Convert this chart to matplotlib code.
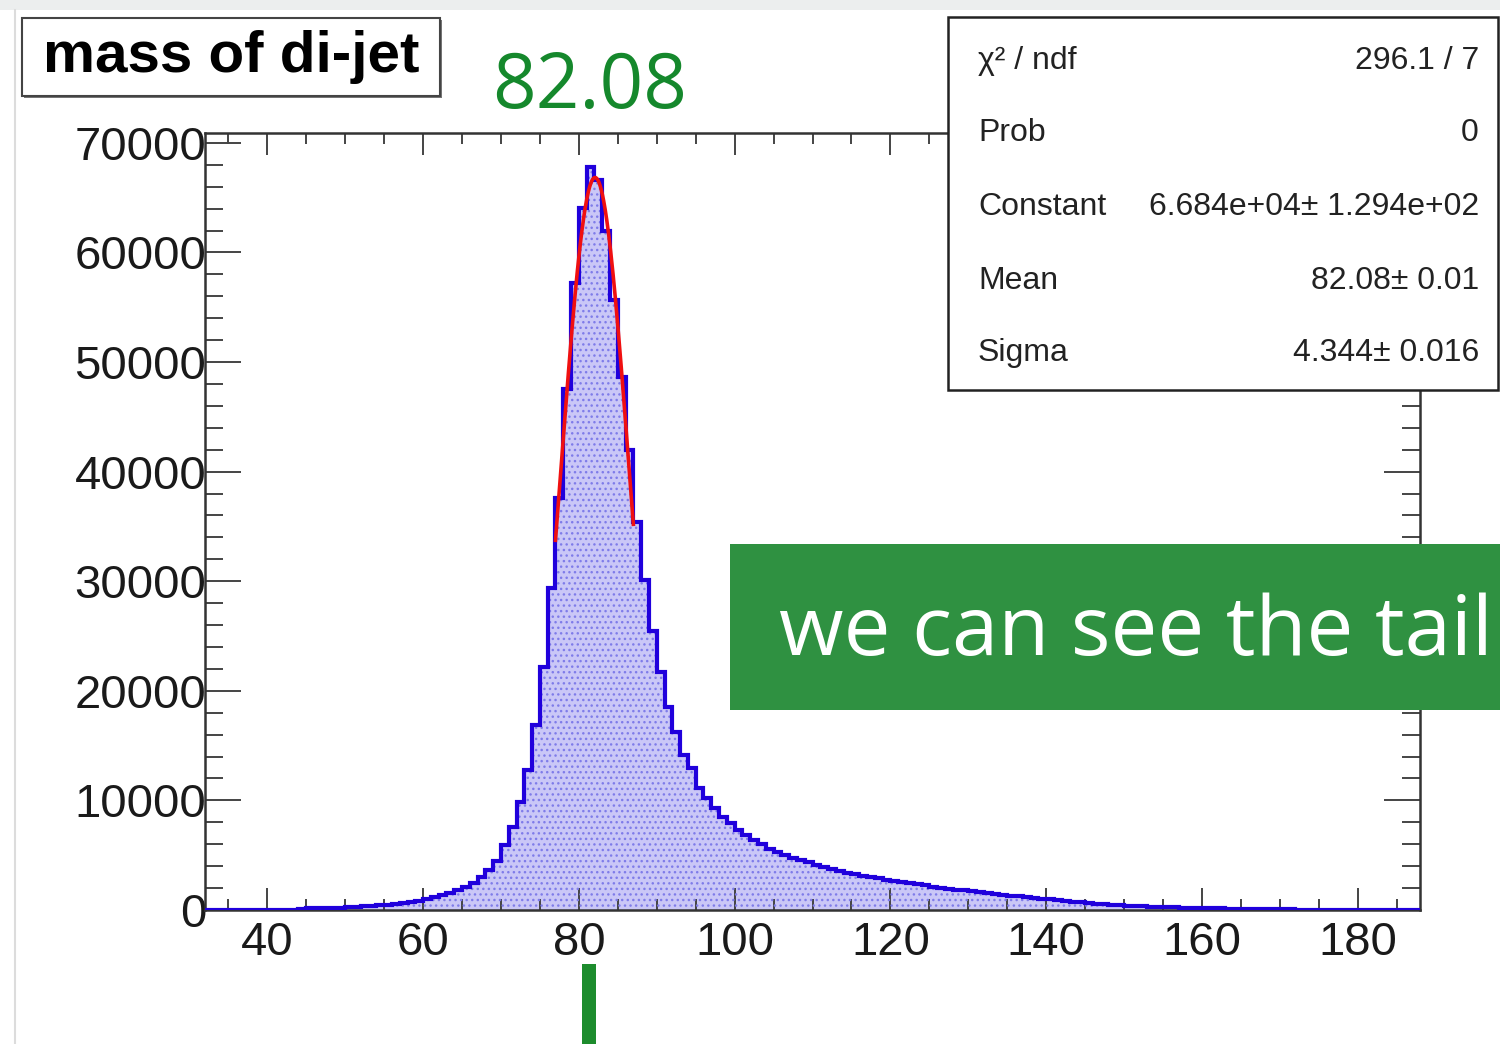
import numpy as np
import matplotlib
matplotlib.use('Agg')
import matplotlib.pyplot as plt
from matplotlib.patches import Rectangle

plt.rcParams['font.family'] = ['Liberation Sans', 'DejaVu Sans']

# histogram: mass of di-jet, 1 GeV bins from 32 to 188
bin_lo = 32
bin_hi = 188
counts = [
    0, 0, 0, 0, 0, 0, 0, 0, 0, 0, 0, 0,                      # 32-43
    120, 140, 160, 180, 200, 220, 250, 280, 320, 370,        # 44-53
    420, 480, 560, 640, 740, 860, 1000, 1150, 1330, 1550,    # 54-63
    1800, 2100, 2500, 3000, 3650, 4450, 5900, 7600, 9900, 12800,  # 64-73
    16900, 22200, 29400, 37600, 47500, 57200, 64100, 67800, 66600, 62000,  # 74-83
    55700, 48600, 42000, 35400, 30100, 25500, 21700, 18500, 16200, 14100,  # 84-93
    13000, 11100, 10200, 9300, 8500, 7900, 7300, 6800, 6400, 6000,  # 94-103
    5600, 5300, 5000, 4750, 4550, 4350, 4150, 3950, 3750, 3580,  # 104-113
    3420, 3270, 3120, 3000, 2880, 2760, 2650, 2540, 2440, 2340,  # 114-123
    2240, 2140, 2050, 1960, 1870, 1780, 1700, 1620, 1540, 1460,  # 124-133
    1390, 1320, 1250, 1180, 1110, 1040, 970, 900, 830, 760,   # 134-143
    690, 630, 570, 510, 460, 420, 380, 350, 320, 290,         # 144-153
    270, 250, 230, 215, 200, 185, 170, 155, 140, 128,         # 154-163
    116, 105, 95, 85, 75, 65, 57, 50, 44, 38,                 # 164-173
    33, 28, 24, 20, 17, 14, 12, 10, 8, 6,                     # 174-183
    5, 4, 3, 2,                                               # 184-187
]

# gaussian fit result (from the stats box)
fit_const = 6.684e4
fit_mean = 82.08
fit_sigma = 4.344
fit_range = (77, 87)

stat_names = ['χ² / ndf', 'Prob', 'Constant', 'Mean', 'Sigma']
stat_values = ['296.1 / 7', '0', '6.684e+04± 1.294e+02', '82.08± 0.01', '4.344± 0.016']

x_ticks = [40, 60, 80, 100, 120, 140, 160, 180]
y_ticks = [0, 10000, 20000, 30000, 40000, 50000, 60000, 70000]

W, H = 1500, 1044
fig = plt.figure(figsize=(15, 10.44), dpi=100)
fig.patch.set_facecolor('white')

def fx(px):
    return px / W

def fy(py):
    return 1 - py / H

# screenshot edges
fig.patches.append(Rectangle((0, fy(10)), 1, 10 / H, transform=fig.transFigure,
                             facecolor='#eceeee', edgecolor='none', zorder=0))
fig.lines.append(plt.Line2D([fx(15), fx(15)], [0, fy(10)], transform=fig.transFigure,
                            color='#dcdcdc', lw=1.5))

ax = fig.add_axes([fx(205), fy(910), fx(1420 - 205), (910 - 133) / H])
edges = np.arange(bin_lo, bin_hi + 1)
ax.stairs(counts, edges, fill=True, facecolor='#cac7f7', edgecolor='none', zorder=1)
ax.stairs(counts, edges, fill=True, facecolor='none', edgecolor='#7f7ce9',
          hatch='...', linewidth=0, zorder=2)
ax.stairs(counts, edges, color='#2000dc', lw=3.0, zorder=3)

xf = np.linspace(fit_range[0], fit_range[1], 200)
yf = fit_const * np.exp(-0.5 * ((xf - fit_mean) / fit_sigma) ** 2)
ax.plot(xf, yf, color='#f01010', lw=2.6, zorder=4)

ax.set_xlim(bin_lo, bin_hi)
ax.set_ylim(0, 70900)
ax.set_xticks(x_ticks)
ax.set_xticks(np.arange(35, 190, 5), minor=True)
ax.set_yticks(y_ticks)
ax.set_yticklabels([str(v) for v in y_ticks])
ax.set_yticks(np.arange(0, 70001, 2000), minor=True)

for s in ax.spines.values():
    s.set_color('#333333')
    s.set_linewidth(1.8)

ax.tick_params(axis='both', which='both', direction='in', top=True, right=True,
               color='#444444', width=1.4, labelcolor='#1a1a1a', labelsize=34)
ax.tick_params(axis='x', which='major', length=16, pad=8)
ax.tick_params(axis='x', which='minor', length=8)
ax.tick_params(axis='y', which='major', length=26, pad=-1)
ax.tick_params(axis='y', which='minor', length=13)

# title box
fig.patches.append(Rectangle((fx(24), fy(98)), 418 / W, 78 / H, transform=fig.transFigure,
                             facecolor='#777777', edgecolor='none', zorder=5))
fig.patches.append(Rectangle((fx(22), fy(96)), 418 / W, 78 / H, transform=fig.transFigure,
                             facecolor='white', edgecolor='#444444', lw=1.5, zorder=6))
fig.text(fx(231), fy(57), 'mass of di-jet', fontsize=42, fontweight='bold',
         ha='center', va='center', color='black', zorder=7)

# stats box
fig.patches.append(Rectangle((fx(948), fy(390)), 550 / W, 373 / H, transform=fig.transFigure,
                             facecolor='white', edgecolor='#222222', lw=1.8, zorder=6))
baselines = [69, 141, 215, 289, 361]
for name, val, b in zip(stat_names, stat_values, baselines):
    fig.text(fx(978), fy(b), name, fontsize=23, ha='left', va='baseline',
             color='#222222', zorder=7)
    fig.text(fx(1479), fy(b), val, fontsize=23, ha='right', va='baseline',
             color='#222222', zorder=7)

# annotations
fig.text(fx(492), fy(108), '82.08', fontsize=55, family='Open Sans',
         color='#15882c', ha='left', va='baseline', zorder=7)
fig.patches.append(Rectangle((fx(730), fy(710)), (1500 - 730) / W, 166 / H,
                             transform=fig.transFigure, facecolor='#2f9141',
                             edgecolor='none', zorder=8))
fig.text(fx(779), fy(655), 'we can see the tail', fontsize=60, family='Open Sans',
         color='white', ha='left', va='baseline', zorder=9)
fig.patches.append(Rectangle((fx(582), 0), 14 / W, 80 / H, transform=fig.transFigure,
                             facecolor='#1d8c2d', edgecolor='none', zorder=8))

fig.savefig('out.png', dpi=100)
